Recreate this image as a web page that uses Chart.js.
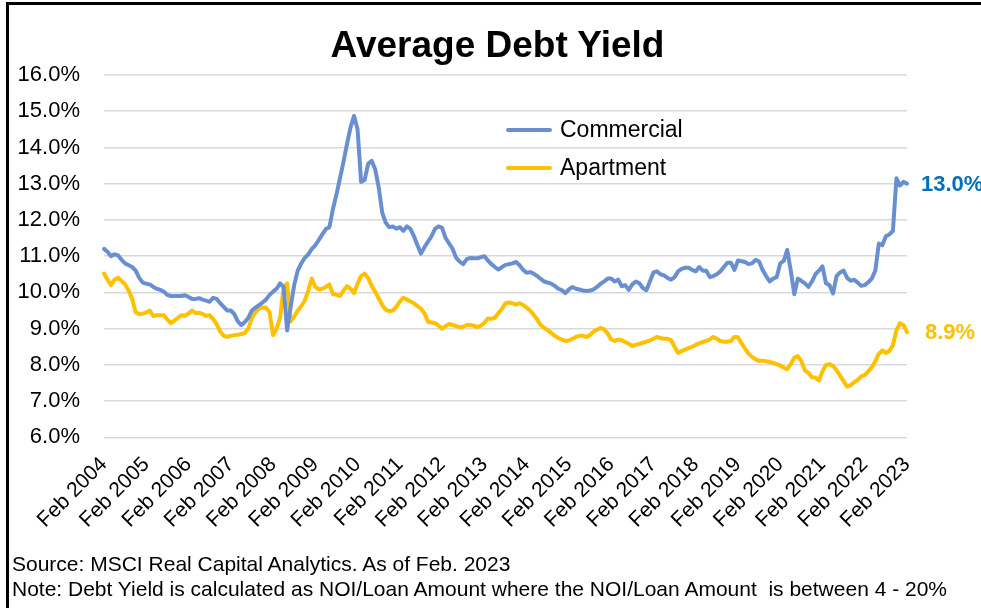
<!DOCTYPE html>
<html>
<head>
<meta charset="utf-8">
<title>Average Debt Yield</title>
<script src="https://cdn.jsdelivr.net/npm/chart.js@4.4.0/dist/chart.umd.min.js"></script>
<style>
    body { margin: 0; background: #fff; }
    #wrap { position: relative; width: 981px; height: 608px; overflow: hidden;
            font-family: "Liberation Sans", Arial, sans-serif; color: #000; }
    #frame { position: absolute; left: 6px; top: 2px; right: -4px; bottom: -4px;
             border-top: 3px solid #000; border-left: 3px solid #000; }
    #title { position: absolute; left: 0; width: 995px; top: 26px; text-align: center;
             font-weight: bold; font-size: 37px; line-height: 37px; }
    .note { position: absolute; left: 12px; font-size: 21px; line-height: 21px; white-space: pre; }
    #chart { position: absolute; left: 0; top: 0; }
</style>
</head>
<body>
<div id="wrap">
    <div id="frame"></div>
    <canvas id="chart" width="981" height="608"></canvas>
    <div id="title">Average Debt Yield</div>
    <div class="note" style="top: 553px;">Source: MSCI Real Capital Analytics. As of Feb. 2023</div>
    <div class="note" style="top: 578px;">Note: Debt Yield is calculated as NOI/Loan Amount where the NOI/Loan Amount  is between 4 - 20%</div>
</div>

<script>
// monthly series, Feb 2004 .. Feb 2023 (one row per year, starting each Feb)
const commercial = [
    11.2, 11.12, 11.0, 11.05, 11.02, 10.9, 10.8, 10.75, 10.7, 10.6, 10.4, 10.27,
    10.24, 10.22, 10.15, 10.1, 10.07, 10.02, 9.93, 9.9, 9.9, 9.9, 9.9, 9.92,
    9.87, 9.82, 9.82, 9.84, 9.8, 9.77, 9.74, 9.85, 9.82, 9.7, 9.6, 9.5,
    9.5, 9.4, 9.2, 9.1, 9.18, 9.3, 9.5, 9.58, 9.65, 9.72, 9.8, 9.93,
    10.02, 10.1, 10.25, 10.15, 8.95, 9.6, 10.2, 10.6, 10.8, 10.95, 11.05, 11.2,
    11.3, 11.45, 11.6, 11.75, 11.8, 12.3, 12.7, 13.15, 13.6, 14.1, 14.55, 14.87,
    14.5, 13.05, 13.1, 13.55, 13.63, 13.4, 12.9, 12.2, 11.92, 11.8, 11.82, 11.76,
    11.8, 11.7, 11.82, 11.75, 11.55, 11.3, 11.07, 11.25, 11.4, 11.55, 11.75, 11.82,
    11.78, 11.5, 11.35, 11.2, 10.95, 10.85, 10.78, 10.92, 10.95, 10.94, 10.94, 10.97,
    11.0, 10.88, 10.78, 10.7, 10.63, 10.7, 10.76, 10.78, 10.8, 10.84, 10.75, 10.62,
    10.54, 10.56, 10.52, 10.45, 10.37, 10.3, 10.27, 10.24, 10.18, 10.1, 10.06, 9.98,
    10.08, 10.15, 10.1, 10.08, 10.05, 10.04, 10.05, 10.08, 10.15, 10.24, 10.3, 10.38,
    10.38, 10.3, 10.35, 10.17, 10.2, 10.07, 10.22, 10.3, 10.25, 10.12, 10.06, 10.3,
    10.55, 10.58, 10.5, 10.47, 10.4, 10.35, 10.42, 10.58, 10.65, 10.68, 10.68, 10.62,
    10.58, 10.7, 10.6, 10.6, 10.42, 10.45, 10.5, 10.58, 10.7, 10.82, 10.82, 10.62,
    10.88, 10.86, 10.84, 10.78, 10.8, 10.9, 10.85, 10.62, 10.45, 10.3, 10.38, 10.42,
    10.8, 10.87, 11.17, 10.6, 9.95, 10.38, 10.32, 10.25, 10.15, 10.3, 10.5, 10.6,
    10.72, 10.25, 10.2, 9.97, 10.45, 10.55, 10.6, 10.4, 10.32, 10.35, 10.27, 10.18,
    10.2, 10.28, 10.38, 10.6, 11.35, 11.3, 11.55, 11.6, 11.7, 13.15, 12.95, 13.05,
    13.0
];

const apartment = [
    10.52, 10.35, 10.2, 10.35, 10.4, 10.32, 10.22, 10.05, 9.82, 9.45, 9.4, 9.41,
    9.45, 9.5, 9.35, 9.37, 9.37, 9.37, 9.25, 9.15, 9.22, 9.3, 9.37, 9.35,
    9.42, 9.5, 9.43, 9.44, 9.4, 9.35, 9.37, 9.26, 9.12, 8.92, 8.8, 8.77,
    8.8, 8.82, 8.83, 8.85, 8.88, 9.0, 9.3, 9.45, 9.55, 9.58, 9.58, 9.45,
    8.82, 9.0, 9.3, 10.15, 10.25, 9.2, 9.33, 9.5, 9.62, 9.77, 10.05, 10.38,
    10.15, 10.08, 10.1, 10.15, 10.22, 9.95, 9.94, 9.9, 10.05, 10.17, 10.1, 9.98,
    10.24, 10.45, 10.52, 10.4, 10.18, 10.02, 9.83, 9.65, 9.52, 9.48, 9.5, 9.6,
    9.75, 9.85, 9.8, 9.75, 9.7, 9.62, 9.55, 9.42, 9.19, 9.17, 9.15, 9.08,
    9.0, 9.07, 9.13, 9.1, 9.07, 9.04, 9.05, 9.1, 9.1, 9.08, 9.04, 9.08,
    9.16, 9.28, 9.27, 9.3, 9.43, 9.55, 9.7, 9.72, 9.7, 9.66, 9.7, 9.65,
    9.58, 9.5, 9.38, 9.25, 9.1, 9.02, 8.95, 8.88, 8.8, 8.74, 8.7, 8.66,
    8.67, 8.72, 8.77, 8.8, 8.8, 8.77, 8.82, 8.92, 8.97, 9.02, 8.98, 8.87,
    8.7, 8.66, 8.7, 8.68, 8.63, 8.58, 8.52, 8.55, 8.58, 8.61, 8.64, 8.67,
    8.72, 8.77, 8.74, 8.72, 8.72, 8.68, 8.5, 8.33, 8.38, 8.42, 8.46, 8.5,
    8.55, 8.59, 8.63, 8.66, 8.7, 8.77, 8.72, 8.66, 8.64, 8.64, 8.66, 8.77,
    8.76, 8.6, 8.45, 8.31, 8.22, 8.15, 8.11, 8.11, 8.1, 8.08, 8.05, 8.02,
    7.98, 7.92, 7.88, 8.02, 8.2, 8.24, 8.1, 7.85, 7.78, 7.66, 7.65, 7.57,
    7.82, 8.0, 8.02, 7.97, 7.85, 7.7, 7.55, 7.4, 7.44, 7.52, 7.58, 7.68,
    7.72, 7.82, 7.93, 8.1, 8.3, 8.4, 8.33, 8.38, 8.55, 8.95, 9.15, 9.1,
    8.9
];

const tickLabels = [
    'Feb 2004', 'Feb 2005', 'Feb 2006', 'Feb 2007', 'Feb 2008', 'Feb 2009', 'Feb 2010',
    'Feb 2011', 'Feb 2012', 'Feb 2013', 'Feb 2014', 'Feb 2015', 'Feb 2016', 'Feb 2017',
    'Feb 2018', 'Feb 2019', 'Feb 2020', 'Feb 2021', 'Feb 2022', 'Feb 2023'
];

const seriesNames = ['Commercial', 'Apartment'];
const lineColors = ['#6A8FD1', '#FFC000'];
const endLabelColors = ['#0070C0', '#FFC000'];
const endLabelGap = [14, 18];

const FONT = '"Liberation Sans", Arial, sans-serif';

// one category per month, Feb 2004 .. Feb 2023
function buildMonths() {
    const names = ['Jan', 'Feb', 'Mar', 'Apr', 'May', 'Jun', 'Jul', 'Aug', 'Sep', 'Oct', 'Nov', 'Dec'];
    const months = [];
    for (let y = 2004; y <= 2023; y++) {
        for (let m = 0; m < 12; m++) {
            if (y === 2004 && m < 1) continue;
            if (y === 2023 && m > 1) break;
            months.push(`${names[m]} ${y}`);
        }
    }
    return months;
}

// legend drawn inside the plot, like the original
const innerLegend = {
    id: 'innerLegend',
    afterDraw(chart) {
        const ctx = chart.ctx;
        ctx.save();
        chart.data.datasets.forEach((ds, i) => {
            const y = 130 + i * 38;
            ctx.strokeStyle = ds.borderColor;
            ctx.lineWidth = 4;
            ctx.lineCap = 'round';
            ctx.beginPath();
            ctx.moveTo(508, y);
            ctx.lineTo(550, y);
            ctx.stroke();
            ctx.fillStyle = '#000';
            ctx.font = `23px ${FONT}`;
            ctx.textBaseline = 'middle';
            ctx.fillText(ds.label, 560, y + 1);
        });
        ctx.restore();
    }
};

// last value written next to the end of each line
const endLabels = {
    id: 'endLabels',
    afterDatasetsDraw(chart) {
        const ctx = chart.ctx;
        ctx.save();
        chart.data.datasets.forEach((ds, i) => {
            const meta = chart.getDatasetMeta(i);
            const last = meta.data[meta.data.length - 1];
            const value = ds.data[ds.data.length - 1];
            ctx.fillStyle = endLabelColors[i];
            ctx.font = `bold 22px ${FONT}`;
            ctx.textBaseline = 'middle';
            ctx.fillText(value.toFixed(1) + '%', last.x + endLabelGap[i], last.y + 1);
        });
        ctx.restore();
    }
};

function createChart() {
    const ctx = document.getElementById('chart').getContext('2d');
    const datasets = [commercial, apartment].map((data, i) => ({
        label: seriesNames[i],
        data: data,
        borderColor: lineColors[i],
        backgroundColor: lineColors[i],
        borderWidth: 4,
        borderJoinStyle: 'round',
        borderCapStyle: 'round',
        pointRadius: 0,
        tension: 0
    }));

    return new Chart(ctx, {
        type: 'line',
        data: { labels: buildMonths(), datasets: datasets },
        options: {
            responsive: false,
            animation: false,
            layout: { padding: { top: 75, right: 74, bottom: 0, left: 0 } },
            plugins: {
                legend: { display: false },
                title: { display: false },
                tooltip: { enabled: false }
            },
            scales: {
                x: {
                    afterFit: (scale) => { scale.height = 170.7; },
                    border: { display: false },
                    grid: { display: false, drawTicks: false },
                    ticks: {
                        autoSkip: false,
                        minRotation: 45,
                        maxRotation: 45,
                        padding: 15,
                        color: '#000',
                        font: { size: 21, family: FONT },
                        callback: (v, i) => (i % 12 === 0 ? tickLabels[i / 12] : '')
                    }
                },
                y: {
                    min: 6,
                    max: 16,
                    afterFit: (scale) => { scale.width = 104; },
                    border: { display: false },
                    grid: { color: '#D9D9D9', lineWidth: 1.5, drawTicks: false },
                    ticks: {
                        stepSize: 1,
                        padding: 24,
                        color: '#000',
                        font: { size: 22, family: FONT },
                        callback: (v) => v.toFixed(1) + '%'
                    }
                }
            }
        },
        plugins: [innerLegend, endLabels]
    });
}

window.onload = function () {
    createChart();
};
</script>
</body>
</html>
